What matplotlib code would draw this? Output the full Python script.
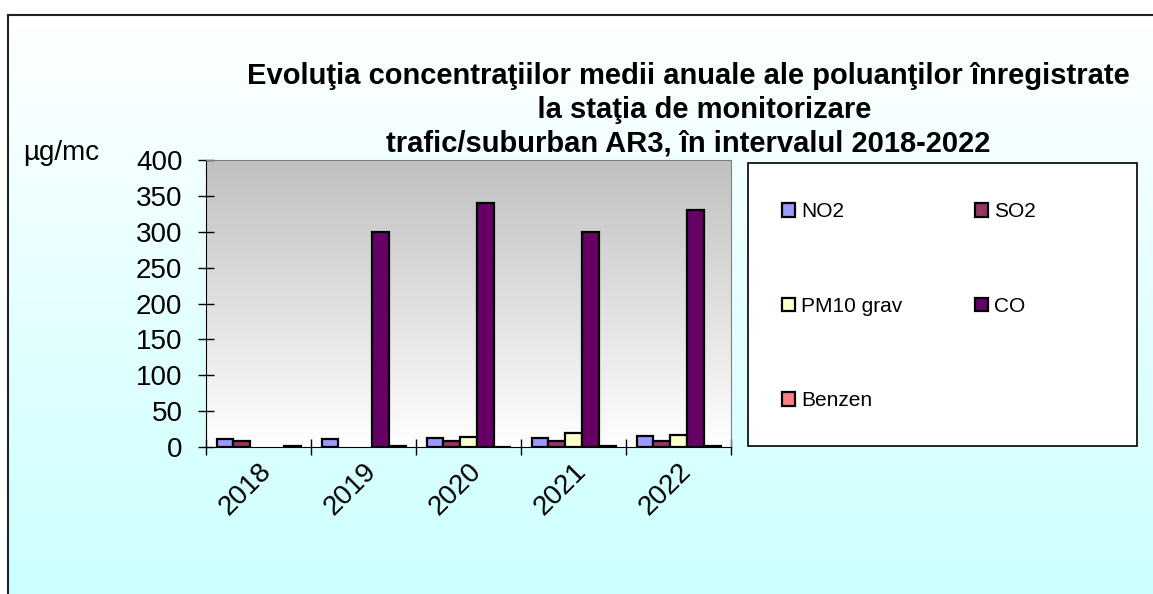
import numpy as np
import matplotlib
matplotlib.use('Agg')
import matplotlib.pyplot as plt
from matplotlib.patches import Rectangle
from matplotlib.lines import Line2D

plt.rcParams['font.family'] = ['Liberation Sans', 'DejaVu Sans']

# data
years = ['2018', '2019', '2020', '2021', '2022']
series = ['NO2', 'SO2', 'PM10 grav', 'CO', 'Benzen']
no2 = [11, 11, 13, 13, 15]
so2 = [8, np.nan, 9, 9, 9]
pm10 = [np.nan, np.nan, 14, 20, 17]
co = [np.nan, 300, 340, 300, 330]
benzen = [1.5, 2, 0.5, 2, 1]
colors = ['#9999FF', '#993366', '#FFFFCC', '#660066', '#FF8080']

W, H = 1153, 594
fig = plt.figure(figsize=(W / 100, H / 100), dpi=100)

# background of the chart area: white to light cyan
bg = fig.add_axes([8 / W, 0, 1 - 8 / W, 1 - 15 / H], zorder=-10)
grad = np.linspace(0, 1, 256)[:, None]
bg_cmap = matplotlib.colors.LinearSegmentedColormap.from_list('bg', ['#FFFFFF', '#CCFFFF'])
bg.imshow(grad, aspect='auto', cmap=bg_cmap, extent=[0, 1, 0, 1])
bg.axis('off')
fig.add_artist(Line2D([8 / W, 8 / W], [0, 1 - 15 / H], color='#222222', lw=1.5))
fig.add_artist(Line2D([8 / W, 1], [1 - 15 / H, 1 - 15 / H], color='#222222', lw=1.5))

ax = fig.add_axes([206 / W, 1 - 447 / H, (731 - 206) / W, (447 - 160) / H])
x = np.arange(len(years))
ax.set_xlim(-0.5, len(years) - 0.5)
ax.set_ylim(0, 400)

# plot area gradient: gray at top to white at bottom
pa_cmap = matplotlib.colors.LinearSegmentedColormap.from_list('pa', ['#FFFFFF', '#C0C0C0'])
ax.imshow(np.linspace(0, 1, 256)[::-1][:, None], aspect='auto', cmap=pa_cmap,
          extent=[-0.5, len(years) - 0.5, 0, 400], zorder=0, origin='upper')

bw = 0.16
for j, (vals, name) in enumerate(zip([no2, so2, pm10, co, benzen], series)):
    ax.bar(x + (j - 2) * bw, vals, bw, color=colors[j], edgecolor='black',
           linewidth=1.6, label=name, zorder=2)

ax.set_yticks(range(0, 401, 50))
ax.tick_params(axis='y', labelsize=20, direction='inout', length=12, width=1, pad=11)
ax.set_xticks(np.arange(-0.5, len(years), 1))
ax.set_xticklabels([])
ax.set_xticks(x, minor=True)
ax.set_xticklabels(years, minor=True, rotation=45, ha='right', rotation_mode='anchor',
                   fontsize=20)
ax.tick_params(axis='x', which='major', direction='inout', length=12, width=1)
ax.tick_params(axis='x', which='minor', length=0, pad=8)
for s in ['top', 'right']:
    ax.spines[s].set_color('#808080')
for s in ['left', 'bottom']:
    ax.spines[s].set_color('black')

fig.text(688 / W, 1 - 110 / H,
         'Evoluţia concentraţiilor medii anuale ale poluanţilor înregistrate\n'
         '    la staţia de monitorizare\n'
         'trafic/suburban AR3, în intervalul 2018-2022',
         ha='center', va='center', fontsize=21, fontweight='bold', linespacing=1.27)
fig.text(23 / W, 1 - 153 / H, 'µg/mc', fontsize=20, va='center', ha='left')

# legend box
fig.add_artist(Rectangle((748 / W, 1 - 446 / H), (1137 - 748) / W, (446 - 163) / H,
                         transform=fig.transFigure, facecolor='white', edgecolor='black',
                         lw=1.2, zorder=1))
handles, labels = ax.get_legend_handles_labels()
order = [0, 2, 4, 1, 3]  # row-wise reading: NO2 SO2 / PM10 CO / Benzen
leg = fig.legend([handles[i] for i in order], [labels[i] for i in order],
                 loc='upper left', bbox_to_anchor=(772 / W, 1 - 192 / H),
                 ncol=2, frameon=False, fontsize=15, handlelength=0.6, handleheight=0.6,
                 handletextpad=0.3, labelspacing=3.62, columnspacing=3.5, borderpad=0)
leg.set_zorder(3)

fig.savefig('out.png', dpi=100)
